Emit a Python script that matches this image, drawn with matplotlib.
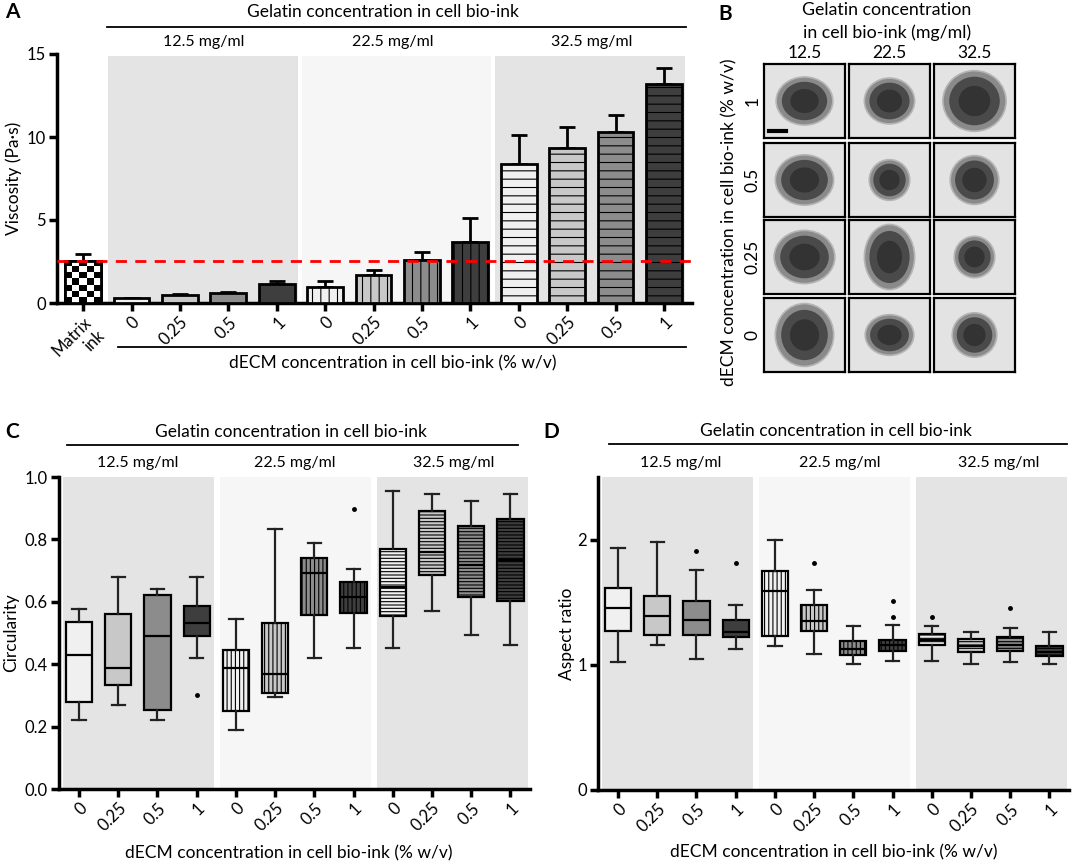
import numpy as np
import matplotlib
matplotlib.use("Agg")
import matplotlib.pyplot as plt
from matplotlib.patches import Ellipse

#--------------------------------------------------------------------------------------
#Data
gelatin_groups = ["12.5 mg/ml", "22.5 mg/ml", "32.5 mg/ml"]
decm_levels = ["0", "0.25", "0.5", "1"]

# panel A : viscosity (Pa.s), mean and upper error
a_labels = ["Matrix\nink"] + decm_levels * 3
a_values = [2.55, 0.30, 0.50, 0.60, 1.15, 0.98, 1.70, 2.58, 3.65, 8.40, 9.35, 10.30, 13.20]
a_errors = [0.40, 0.03, 0.03, 0.06, 0.15, 0.36, 0.30, 0.48, 1.45, 1.72, 1.27, 1.05, 0.95]

# panel C : circularity box stats
c_whislo = [0.22, 0.27, 0.22, 0.42, 0.19, 0.294, 0.42, 0.452, 0.453, 0.572, 0.492, 0.46]
c_q1 = [0.28, 0.332, 0.254, 0.489, 0.249, 0.307, 0.558, 0.563, 0.556, 0.686, 0.616, 0.603]
c_med = [0.428, 0.389, 0.49, 0.532, 0.389, 0.367, 0.693, 0.616, 0.648, 0.759, 0.719, 0.734]
c_q3 = [0.536, 0.562, 0.621, 0.586, 0.446, 0.532, 0.739, 0.662, 0.770, 0.892, 0.843, 0.865]
c_whishi = [0.578, 0.679, 0.641, 0.679, 0.545, 0.833, 0.788, 0.705, 0.954, 0.945, 0.923, 0.947]
c_fliers = [[], [], [], [0.302], [], [], [], [0.899], [], [], [], []]

# panel D : aspect ratio box stats
d_whislo = [1.02, 1.16, 1.05, 1.13, 1.15, 1.09, 1.01, 1.03, 1.03, 1.01, 1.02, 1.01]
d_q1 = [1.27, 1.24, 1.24, 1.22, 1.23, 1.27, 1.08, 1.11, 1.16, 1.10, 1.11, 1.07]
d_med = [1.45, 1.39, 1.36, 1.26, 1.59, 1.35, 1.13, 1.16, 1.20, 1.15, 1.16, 1.10]
d_q3 = [1.61, 1.55, 1.51, 1.36, 1.75, 1.48, 1.19, 1.20, 1.25, 1.21, 1.22, 1.15]
d_whishi = [1.93, 1.98, 1.76, 1.48, 2.00, 1.60, 1.31, 1.32, 1.31, 1.26, 1.29, 1.26]
d_fliers = [[], [], [1.91], [1.81], [], [1.81], [], [1.38, 1.51], [1.38], [], [1.45], []]

# panel B : spheroid footprint in each image (fraction of frame), rows = dECM 1,0.5,0.25,0
b_rows = ["1", "0.5", "0.25", "0"]
b_cols = ["12.5", "22.5", "32.5"]
b_width = [[0.70, 0.62, 0.78], [0.72, 0.50, 0.60], [0.75, 0.62, 0.50], [0.72, 0.60, 0.55]]
b_height = [[0.65, 0.62, 0.82], [0.68, 0.55, 0.66], [0.72, 0.88, 0.56], [0.85, 0.55, 0.60]]

#--------------------------------------------------------------------------------------
#Style
plt.rcParams["font.family"] = ["Lato", "DejaVu Sans"]
plt.rcParams["hatch.linewidth"] = 0.8
W, H = 1072, 864
shade = ["#e4e4e4", "#f6f6f6", "#e4e4e4"]
fills = ["#f0f0f0", "#c8c8c8", "#8c8c8c", "#3e3e3e"]
fig = plt.figure(figsize=(W / 100, H / 100), dpi=100)


def style_axes(ax):
    for s in ["top", "right"]:
        ax.spines[s].set_visible(False)
    for s in ["left", "bottom"]:
        ax.spines[s].set_linewidth(2.5)
    ax.tick_params(axis="both", width=2.5, length=6, labelsize=12, pad=2)


def brackets(ax, head_x, line_x, group_x, ys, bottom=None):
    tr = ax.get_xaxis_transform()
    ax.text(head_x, ys[0], "Gelatin concentration in cell bio-ink", transform=tr,
            ha="center", va="center", fontsize=12.5)
    ax.plot(line_x, [ys[1], ys[1]], transform=tr, color="black", lw=1.3, clip_on=False)
    for gx, g in zip(group_x, gelatin_groups):
        ax.text(gx, ys[2], g, transform=tr, ha="center", va="center", fontsize=11.5)
    if bottom is not None:
        bx, by, bline = bottom
        if bline is not None:
            ax.plot(bline[0], [bline[1], bline[1]], transform=tr, color="black", lw=1.3, clip_on=False)
        ax.text(bx, by, "dECM concentration in cell bio-ink (% w/v)", transform=tr,
                ha="center", va="center", fontsize=12.5)


#--------------------------------------------------------------------------------------
#Panel A
axA = fig.add_axes([57 / W, 1 - 303 / H, 635 / W, 249 / H])
xa = np.arange(len(a_values))
for k in range(3):
    axA.axvspan(4 * k + 0.52, 4 * k + 4.43, ymax=0.992, color=shade[k], lw=0, zorder=0)
a_colors = ["white"] + fills * 3
a_hatch = ["", "", "", "", ""] + ["||"] * 4 + ["--"] * 4
axA.errorbar(xa, a_values, yerr=[np.zeros(len(a_values)), a_errors], fmt="none",
             ecolor="black", elinewidth=2, capsize=6, capthick=2, zorder=2)
bars = axA.bar(xa, a_values, width=0.74, color=a_colors, edgecolor="black", linewidth=2, zorder=3)
for b, h in zip(bars, a_hatch):
    b.set_hatch(h)
b0 = bars[0]
checker = np.indices((7, 5)).sum(0) % 2
im = axA.imshow(checker, cmap="gray", interpolation="nearest", aspect="auto",
                extent=(b0.get_x(), b0.get_x() + b0.get_width(), 0, b0.get_height()), zorder=3.5)
im.set_clip_path(b0)
axA.bar(xa[0], a_values[0], width=0.74, fill=False, edgecolor="black", linewidth=2, zorder=4)
axA.axhline(a_values[0], color="red", ls=(0, (4, 3)), lw=2, zorder=5)
axA.set_xlim(-0.54, 12.58)
axA.set_ylim(0, 15)
axA.set_yticks([0, 5, 10, 15])
axA.set_xticks(xa)
axA.set_xticklabels(a_labels, rotation=45, ha="right", va="top", rotation_mode="anchor")
style_axes(axA)
axA.set_ylabel("Viscosity (Pa·s)", fontsize=12.5)
axA.yaxis.set_label_coords(-0.055, 0.5)
brackets(axA, 6.2, [0.5, 12.46], [2.5, 6.4, 10.5], [1.169, 1.108, 1.048],
         bottom=(6.4, -0.241, ([0.72, 12.46], -0.177)))

#--------------------------------------------------------------------------------------
#Panel C and D


def box_panel(rect, lo, q1, med, q3, hi, fl, ylim, yticks, fmt, ylabel, lab_x):
    ax = fig.add_axes(rect)
    for k in range(3):
        ax.axvspan(4 * k - 0.4, 4 * k + 3.44, color=shade[k], lw=0, zorder=0)
    stats = []
    for i in range(len(med)):
        stats.append({"whislo": lo[i], "q1": q1[i], "med": med[i], "q3": q3[i],
                      "whishi": hi[i], "fliers": fl[i]})
    xs = np.arange(len(med))
    res = ax.bxp(stats, positions=xs, widths=0.67, capwidths=0.34, patch_artist=True,
                 boxprops=dict(edgecolor="black", linewidth=1.6),
                 medianprops=dict(color="black", linewidth=1.6),
                 whiskerprops=dict(color="#222222", linewidth=1.6),
                 capprops=dict(color="#222222", linewidth=1.6),
                 flierprops=dict(marker="o", markersize=2.5, markerfacecolor="black",
                                 markeredgecolor="black"))
    hatch = [""] * 4 + ["||||"] * 4 + ["-----"] * 4
    for i, bx in enumerate(res["boxes"]):
        bx.set_facecolor(fills[i % 4])
        bx.set_hatch(hatch[i])
        bx.set_zorder(2)
    ax.set_xlim(-0.51, 11.5)
    ax.set_ylim(*ylim)
    ax.set_yticks(yticks)
    ax.set_yticklabels([fmt % v for v in yticks])
    ax.set_xticks(xs)
    ax.set_xticklabels(decm_levels * 3, rotation=45, ha="right", va="top", rotation_mode="anchor")
    style_axes(ax)
    ax.set_ylabel(ylabel, fontsize=12.5)
    ax.yaxis.set_label_coords(lab_x, 0.5)
    return ax


axC = box_panel([59 / W, 1 - 789 / H, 471 / W, 312 / H], c_whislo, c_q1, c_med, c_q3,
                c_whishi, c_fliers, (0, 1.0), [0, 0.2, 0.4, 0.6, 0.8, 1.0], "%.1f",
                "Circularity", -0.085)
brackets(axC, 5.4, [-0.31, 11.2], [1.5, 5.5, 9.55], [1.144, 1.103, 1.045],
         bottom=(5.35, -0.205, None))

axD = box_panel([598 / W, 1 - 790 / H, 471 / W, 313 / H], d_whislo, d_q1, d_med, d_q3,
                d_whishi, d_fliers, (0, 2.5), [0, 1, 2], "%d", "Aspect ratio", -0.049)
brackets(axD, 5.56, [-0.23, 11.45], [1.6, 5.66, 9.7], [1.147, 1.105, 1.045],
         bottom=(5.5, -0.2, None))

#--------------------------------------------------------------------------------------
#Panel B (micrograph grid drawn as schematic frames)
col_x = [764, 849, 934]
row_y = [64, 143, 220, 298]
cw, ch = 81, 74
for r in range(len(b_rows)):
    for c in range(len(b_cols)):
        ax = fig.add_axes([col_x[c] / W, 1 - (row_y[r] + ch) / H, cw / W, ch / H])
        ax.set_facecolor("#e3e3e3")
        ax.set_xticks([])
        ax.set_yticks([])
        for s in ax.spines.values():
            s.set_linewidth(1.6)
        ax.set_xlim(0, 1)
        ax.set_ylim(0, 1)
        w, h = b_width[r][c], b_height[r][c]
        ax.add_patch(Ellipse((0.5, 0.5), w, h, facecolor="#8a8a8a", edgecolor="#b5b5b5", lw=1.2))
        ax.add_patch(Ellipse((0.5, 0.5), w * 0.8, h * 0.8, facecolor="#4a4a4a", lw=0))
        ax.add_patch(Ellipse((0.5, 0.5), w * 0.5, h * 0.5, facecolor="#333333", lw=0))
        if r == 0 and c == 0:
            ax.plot([0.06, 0.27], [0.1, 0.1], color="black", lw=3)
        if c == 0:
            fig.text(753 / W, 1 - (row_y[r] + ch / 2) / H, b_rows[r], rotation=90,
                     ha="center", va="center", fontsize=12.5)
        if r == 0:
            fig.text((col_x[c] + cw / 2) / W, 1 - 53 / H, b_cols[c], ha="center",
                     va="center", fontsize=12.5)
fig.text(887 / W, 1 - 10 / H, "Gelatin concentration", ha="center", va="center", fontsize=12.8)
fig.text(887 / W, 1 - 33 / H, "in cell bio-ink (mg/ml)", ha="center", va="center", fontsize=12.8)
fig.text(729 / W, 1 - 222 / H, "dECM concentration in cell bio-ink (% w/v)", rotation=90,
         ha="center", va="center", fontsize=12.5)

#--------------------------------------------------------------------------------------
#Panel letters
for lab, px, py in [("A", 5, 12), ("B", 718, 14), ("C", 5, 432), ("D", 543, 432)]:
    fig.text(px / W, 1 - py / H, lab, fontsize=15, fontweight="bold", ha="left", va="center")

fig.savefig("out.png", dpi=100)
